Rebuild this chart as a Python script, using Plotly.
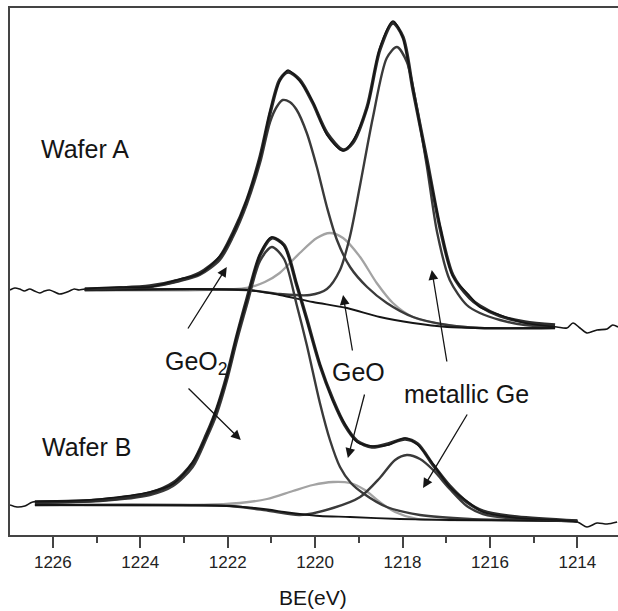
import plotly.graph_objects as go

# ---------------- Wafer A (upper spectrum) ----------------
be_raw_a = [1226.98, 1226.87, 1226.76, 1226.65, 1226.53, 1226.42, 1226.30, 1226.19,
            1226.08, 1225.96, 1225.85, 1225.74, 1225.62, 1225.51, 1225.40, 1225.27,
            1224.47, 1223.78, 1223.09, 1222.64, 1222.18, 1221.88, 1221.56, 1221.26,
            1221.03, 1220.81, 1220.62, 1220.35, 1220.05, 1219.73, 1219.36, 1219.14,
            1218.81, 1218.52, 1218.22, 1217.99, 1217.76, 1217.44, 1217.14, 1216.85,
            1216.46, 1216.23, 1215.77, 1215.20,
            1214.47, 1214.24, 1214.10, 1213.94, 1213.78, 1213.55, 1213.32, 1213.19, 1213.07]
int_raw_a = [245, 247, 246, 244, 246, 244, 242, 244, 245, 243, 241, 242, 244, 246, 245, 246,
             248, 248, 256, 261, 279, 301, 336, 377, 424, 454, 465, 454, 433, 400, 384, 394,
             427, 487, 514, 497, 446, 373, 309, 259, 239, 228, 220, 212,
             208, 207, 212, 207, 202, 205, 206, 210, 208]

be_fit_a = [1225.27, 1224.47, 1223.78, 1223.09, 1222.64, 1222.18, 1221.88, 1221.56,
            1221.26, 1221.03, 1220.81, 1220.62, 1220.35, 1220.05, 1219.73, 1219.36,
            1219.14, 1218.81, 1218.52, 1218.22, 1217.99, 1217.76, 1217.44, 1217.14,
            1216.85, 1216.46, 1216.23, 1215.77, 1215.20, 1214.51]
int_fit_a = [246, 247, 249, 255, 262, 278, 302, 335, 378, 422, 455, 463, 455, 432, 402, 385,
             392, 428, 485, 512, 498, 445, 375, 307, 260, 237, 229, 219, 213, 210]

be_geo2_a = [1225.27, 1223.78, 1223.09, 1222.64, 1222.18, 1221.88, 1221.56, 1221.26,
             1221.03, 1220.88, 1220.74, 1220.58, 1220.42, 1220.19, 1219.96, 1219.73,
             1219.50, 1219.20, 1218.81, 1218.36, 1217.76, 1216.98, 1216.23, 1214.51]
int_geo2_a = [245, 248, 254, 260, 275, 298, 331, 372, 413, 428, 435, 433, 425, 402, 368, 328,
              295, 268, 248, 232, 218, 210, 207, 207]

be_geo_a = [1225.27, 1222.64, 1221.56, 1221.15, 1220.81, 1220.35, 1219.96, 1219.66,
            1219.36, 1218.97, 1218.59, 1218.22, 1217.76, 1216.98, 1216.23, 1214.51]
int_geo_a = [245, 245, 247, 253, 262, 282, 297, 302, 297, 278, 252, 232, 218, 210, 207, 207]

be_ge_a = [1225.27, 1221.56, 1220.81, 1220.12, 1219.73, 1219.43, 1219.20, 1218.97,
           1218.68, 1218.36, 1218.13, 1217.90, 1217.67, 1217.44, 1217.21, 1216.92,
           1216.53, 1216.23, 1215.77, 1215.20, 1214.51]
int_ge_a = [245, 245, 241, 240, 246, 265, 299, 350, 417, 477, 488, 473, 427, 368, 303, 255,
            230, 222, 215, 210, 208]

be_bg_a = [1225.27, 1221.56, 1220.81, 1220.05, 1219.27, 1218.52, 1217.76, 1216.98,
           1216.23, 1214.51]
int_bg_a = [245, 245, 240, 233, 227, 218, 212, 208, 207, 207]

# ---------------- Wafer B (lower spectrum) ----------------
be_raw_b = [1226.98, 1226.82, 1226.64, 1226.46, 1225.70,
            1224.92, 1223.78, 1223.25, 1222.80, 1222.48, 1222.25, 1222.02, 1221.79,
            1221.56, 1221.26, 1220.99, 1220.71, 1220.42, 1220.19, 1219.89, 1219.59,
            1219.32, 1219.04, 1218.70, 1218.33, 1217.94, 1217.65, 1217.30, 1216.92,
            1216.53, 1216.16, 1215.38,
            1214.00, 1213.78, 1213.55, 1213.32, 1213.09]
int_raw_b = [30, 28, 29, 33, 34,
             36, 43, 51, 73, 100, 127, 158, 200, 235, 281, 298, 289, 251, 215, 171, 134,
             111, 93, 89, 90, 97, 90, 71, 48, 34, 23, 17,
             13, 8, 12, 11, 13]

be_fit_b = [1226.41, 1224.92, 1223.78, 1223.25, 1222.80, 1222.48, 1222.25, 1222.02,
            1221.79, 1221.56, 1221.26, 1220.99, 1220.71, 1220.42, 1220.19, 1219.89,
            1219.59, 1219.32, 1219.04, 1218.70, 1218.33, 1217.94, 1217.65, 1217.30,
            1216.92, 1216.53, 1216.16, 1215.38, 1214.00]
int_fit_b = [33, 35, 42, 52, 72, 101, 126, 159, 199, 236, 280, 297, 290, 250, 216, 170,
             135, 110, 94, 88, 91, 96, 91, 70, 49, 33, 24, 18, 14]

be_geo2_b = [1226.41, 1224.92, 1223.78, 1223.25, 1222.80, 1222.48, 1222.25, 1222.02,
             1221.79, 1221.56, 1221.26, 1220.99, 1220.71, 1220.42, 1220.19, 1219.89,
             1219.66, 1219.43, 1219.18, 1218.91, 1218.36, 1217.60, 1216.46, 1214.00]
int_geo2_b = [32, 34, 40, 49, 68, 97, 121, 154, 194, 230, 274, 288, 276, 230, 190, 132,
              95, 68, 52, 42, 28, 20, 16, 14]

be_geo_b = [1226.41, 1222.64, 1221.72, 1221.10, 1220.51, 1220.05, 1219.59, 1219.20,
            1218.86, 1218.52, 1218.17, 1217.67, 1216.92, 1214.00]
int_geo_b = [30, 30, 32, 36, 44, 50, 53, 52, 45, 33, 23, 16, 15, 14]

be_ge_b = [1226.41, 1221.95, 1221.03, 1220.35, 1219.59, 1218.97, 1218.52, 1218.17,
           1217.90, 1217.60, 1217.30, 1216.92, 1216.53, 1216.16, 1215.38, 1214.00]
int_ge_b = [30, 29, 24, 20, 27, 38, 57, 75, 80, 76, 65, 46, 29, 21, 16, 14]

be_bg_b = [1226.41, 1221.95, 1221.38, 1220.99, 1220.71, 1220.35, 1219.89, 1219.20,
           1218.06, 1216.92, 1214.00]
int_bg_b = [30, 29, 27, 25, 23, 21, 19, 18, 16, 15, 14]

x_ticks = [1226, 1224, 1222, 1220, 1218, 1216, 1214]

FONT = "Liberation Sans, Arial, sans-serif"
DARK = "#3a3a3a"
LIGHT = "#a3a3a3"
INK = "#151515"

fig = go.Figure()


def curve(x, y, color, width):
    fig.add_trace(go.Scatter(x=x, y=y, mode="lines",
                             line=dict(color=color, width=width, shape="spline", smoothing=0.8),
                             hoverinfo="skip", showlegend=False))


for sets in (
    (be_bg_a, int_bg_a, be_geo2_a, int_geo2_a, be_ge_a, int_ge_a, be_geo_a, int_geo_a,
     be_fit_a, int_fit_a, be_raw_a, int_raw_a),
    (be_bg_b, int_bg_b, be_geo2_b, int_geo2_b, be_ge_b, int_ge_b, be_geo_b, int_geo_b,
     be_fit_b, int_fit_b, be_raw_b, int_raw_b),
):
    bgx, bgy, o2x, o2y, gex, gey, ox, oy, fx, fy, rx, ry = sets
    curve(ox, oy, LIGHT, 2.3)
    curve(o2x, o2y, DARK, 2.4)
    curve(gex, gey, DARK, 2.4)
    curve(bgx, bgy, INK, 1.8)
    curve(fx, fy, "#2b2b2b", 3.4)
    curve(rx, ry, INK, 1.6)

labels = [
    dict(x=1225.27, y=386, text="Wafer A", xanchor="center"),
    dict(x=1225.22, y=88, text="Wafer B", xanchor="center"),
    dict(x=1223.48, y=172, text="GeO<sub>2</sub>", xanchor="left"),
    dict(x=1219.0, y=163, text="GeO", xanchor="center"),
    dict(x=1216.53, y=141, text="metallic Ge", xanchor="center"),
]
for lb in labels:
    fig.add_annotation(xref="x", yref="y", showarrow=False, yanchor="middle",
                       font=dict(family=FONT, size=25, color=INK), **lb)

# arrows: (tail BE, tail intensity, head BE, head intensity)
arrows = [
    (1222.93, 205, 1222.02, 268),
    (1222.93, 148, 1221.70, 95),
    (1219.14, 183, 1219.36, 240),
    (1218.86, 142, 1219.25, 77),
    (1216.98, 172, 1217.33, 265),
    (1216.50, 122, 1217.53, 47),
]
for tx, ty, hx, hy in arrows:
    fig.add_annotation(x=hx, y=hy, ax=tx, ay=ty, xref="x", yref="y", axref="x", ayref="y",
                       text="", showarrow=True, arrowhead=2, arrowsize=1.5,
                       arrowwidth=1.3, arrowcolor=INK, standoff=0, startstandoff=0)

fig.add_annotation(xref="x", yref="paper", x=1220.05, y=-0.118, text="BE(eV)",
                   showarrow=False, yanchor="middle",
                   font=dict(family=FONT, size=21, color=INK))

fig.update_xaxes(range=[1226.98, 1213.07], tickvals=x_ticks,
                 ticks="outside", ticklen=11, tickwidth=1.5, tickcolor="#444",
                 showline=True, linecolor="#444", linewidth=2, mirror=True,
                 showgrid=False, zeroline=False,
                 tickfont=dict(family=FONT, size=17, color="#222"),
                 minor=dict(tickvals=[1227, 1225, 1223, 1221, 1219, 1217, 1215, 1213],
                            ticks="outside", ticklen=6, tickwidth=1.5, tickcolor="#444"))
fig.update_yaxes(range=[0, 527], showline=True, linecolor="#444", linewidth=2,
                 showticklabels=False, ticks="", showgrid=False, zeroline=False)

fig.update_layout(width=618, height=611, margin=dict(l=10, r=0, t=8, b=76),
                  plot_bgcolor="white", paper_bgcolor="white")

fig.write_html("out.html")
